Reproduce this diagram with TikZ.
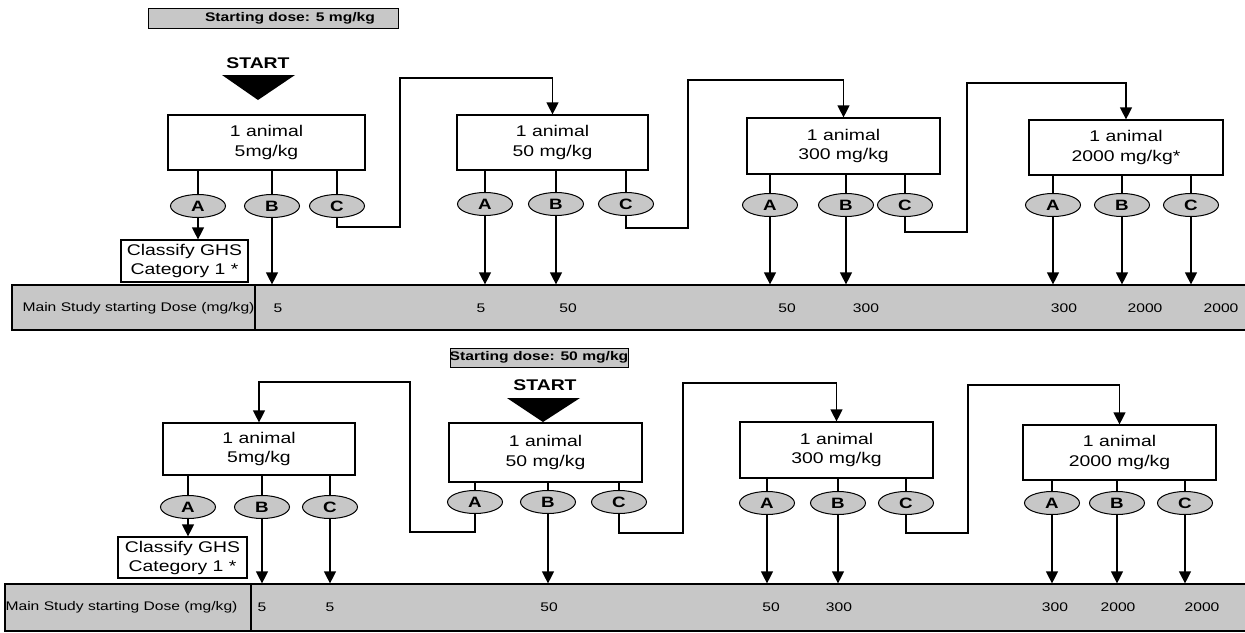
\documentclass[tikz,border=0pt]{standalone}
\usepackage{fontspec}
\setmainfont{Liberation Sans}[FakeStretch=1.25]
\usetikzlibrary{arrows.meta,shapes.geometric}
\begin{document}
\begin{tikzpicture}[x=1pt,y=-1pt,
  line width=1.2pt,
  animalbox/.style={draw, fill=white, align=center, inner sep=0pt,
    font=\fontsize{15.5}{19.5}\selectfont},
  outcome/.style={draw, ellipse, fill=black!22, minimum width=55pt, minimum height=23pt,
    inner sep=0pt, line width=1pt, font=\fontsize{15}{15}\selectfont\bfseries},
  classbox/.style={draw, fill=white, align=center, inner sep=0pt,
    font=\fontsize{15.5}{19}\selectfont, minimum width=127pt, minimum height=42pt},
  dosebar/.style={draw, fill=black!22, inner sep=0pt},
  dosetag/.style={draw, fill=black!22, inner sep=0pt, line width=1pt},
  tagtext/.style={font=\fontsize{12.5}{13}\selectfont\bfseries, inner sep=0pt},
  starttext/.style={font=\fontsize{15.5}{15.5}\selectfont\bfseries, inner sep=0pt},
  bartext/.style={font=\fontsize{12.5}{12.5}\selectfont, inner sep=0pt},
  arr/.style={-{Triangle[width=12pt,length=12pt]}},
]
\useasboundingbox (0,0) rectangle (1245,632);

% ---------------- upper scheme: starting dose 5 mg/kg ----------------
\node[dosetag, minimum width=250pt, minimum height=20pt] (tag1) at (273,18) {};
\node[tagtext] (tag1t) at (290,18) {Starting dose: 5 mg/kg};
\node[starttext] (st1) at (258,63) {START};
\fill (222,75) -- (295,75) -- (258,100) -- cycle;

\node[animalbox, minimum width=197pt, minimum height=55pt] (u1) at (266.5,142.5) {1 animal\\5mg/kg};
\node[animalbox, minimum width=191pt, minimum height=55pt] (u2) at (552.5,142.5) {1 animal\\50 mg/kg};
\node[animalbox, minimum width=193pt, minimum height=56pt] (u3) at (843.5,146) {1 animal\\300 mg/kg};
\node[animalbox, minimum width=194pt, minimum height=55pt] (u4) at (1126,147.5) {1 animal\\2000 mg/kg*};

\node[outcome] (ua1) at (198,206) {A};
\node[outcome] (ub1) at (272,206) {B};
\node[outcome] (uc1) at (337,206) {C};
\node[outcome] (ua2) at (485,204) {A};
\node[outcome] (ub2) at (556,204) {B};
\node[outcome] (uc2) at (626,204) {C};
\node[outcome] (ua3) at (770,205) {A};
\node[outcome] (ub3) at (846,205) {B};
\node[outcome] (uc3) at (905,205) {C};
\node[outcome] (ua4) at (1053,205) {A};
\node[outcome] (ub4) at (1122,205) {B};
\node[outcome] (uc4) at (1191,205) {C};

\node[classbox] (ucls) at (184.5,261) {Classify GHS\\Category 1 *};

\node[dosebar, minimum width=1236pt, minimum height=45pt] (bar1) at (630,307.5) {};
\draw (255,285) -- (255,330);
\node[bartext] (bar1t) at (138.5,308) {Main Study starting Dose (mg/kg)};
\node[bartext] (n11) at (278,308) {5};
\node[bartext] (n12) at (481,308) {5};
\node[bartext] (n13) at (568,308) {50};
\node[bartext] (n14) at (787,308) {50};
\node[bartext] (n15) at (866,308) {300};
\node[bartext] (n16) at (1064,308) {300};
\node[bartext] (n17) at (1145,308) {2000};
\node[bartext] (n18) at (1221,308) {2000};

% box to outcome stems
\foreach \b/\e in {u1/ua1,u1/ub1,u1/uc1,u2/ua2,u2/ub2,u2/uc2,u3/ua3,u3/ub3,u3/uc3,u4/ua4,u4/ub4,u4/uc4}
  \draw (\e.north |- \b.south) -- (\e.north);

% outcomes to the classification box and the dose bar
\draw[arr] (ua1.south) -- (ua1.south |- ucls.north);
\foreach \e in {ub1,ua2,ub2,ua3,ub3,ua4,ub4,uc4}
  \draw[arr] (\e.south) -- (\e.south |- bar1.north);

% escalation loops
\coordinate (k1b) at (400,227);
\coordinate (k1t) at (400,78);
\coordinate (k2b) at (688,228);
\coordinate (k2t) at (688,80);
\coordinate (k3b) at (967,232);
\coordinate (k3t) at (967,83);
\draw[arr] (uc1.south) |- (k1b) -- (k1t) -| (u2.north);
\draw[arr] (uc2.south) |- (k2b) -- (k2t) -| (u3.north);
\draw[arr] (uc3.south) |- (k3b) -- (k3t) -| (u4.north);

% ---------------- lower scheme: starting dose 50 mg/kg ----------------
\node[dosetag, minimum width=178pt, minimum height=19pt] (tag2) at (539,357.5) {};
\node[tagtext] (tag2t) at (539,357.5) {Starting dose: 50 mg/kg};
\node[starttext] (st2) at (545,385) {START};
\fill (507,398) -- (580,398) -- (543,422) -- cycle;

\node[animalbox, minimum width=192pt, minimum height=52pt] (l1) at (259,449) {1 animal\\5mg/kg};
\node[animalbox, minimum width=193pt, minimum height=59pt] (l2) at (545.5,452.5) {1 animal\\50 mg/kg};
\node[animalbox, minimum width=193pt, minimum height=56pt] (l3) at (836.5,450) {1 animal\\300 mg/kg};
\node[animalbox, minimum width=193pt, minimum height=55pt] (l4) at (1119.5,452.5) {1 animal\\2000 mg/kg};

\node[outcome] (la1) at (188,507) {A};
\node[outcome] (lb1) at (262,507) {B};
\node[outcome] (lc1) at (330,507) {C};
\node[outcome] (la2) at (475,502) {A};
\node[outcome] (lb2) at (548,502) {B};
\node[outcome] (lc2) at (619,502) {C};
\node[outcome] (la3) at (767,503) {A};
\node[outcome] (lb3) at (838,503) {B};
\node[outcome] (lc3) at (906,503) {C};
\node[outcome] (la4) at (1052,503) {A};
\node[outcome] (lb4) at (1117,503) {B};
\node[outcome] (lc4) at (1185,503) {C};

\node[classbox, minimum width=129pt, minimum height=41pt] (lcls) at (182.5,557.5) {Classify GHS\\Category 1 *};

\node[dosebar, minimum width=1245pt, minimum height=47pt] (bar2) at (627.5,607.5) {};
\draw (251,584) -- (251,631);
\node[bartext] (bar2t) at (121.5,607) {Main Study starting Dose (mg/kg)};
\node[bartext] (n21) at (262,607) {5};
\node[bartext] (n22) at (330,607) {5};
\node[bartext] (n23) at (549,607) {50};
\node[bartext] (n24) at (771,607) {50};
\node[bartext] (n25) at (839,607) {300};
\node[bartext] (n26) at (1055,607) {300};
\node[bartext] (n27) at (1118,607) {2000};
\node[bartext] (n28) at (1202,607) {2000};

\foreach \b/\e in {l1/la1,l1/lb1,l1/lc1,l2/la2,l2/lb2,l2/lc2,l3/la3,l3/lb3,l3/lc3,l4/la4,l4/lb4,l4/lc4}
  \draw (\e.north |- \b.south) -- (\e.north);

\draw[arr] (la1.south) -- (la1.south |- lcls.north);
\foreach \e in {lb1,lc1,lb2,la3,lb3,la4,lb4,lc4}
  \draw[arr] (\e.south) -- (\e.south |- bar2.north);

\coordinate (m1b) at (410,532);
\coordinate (m1t) at (410,382);
\coordinate (m2b) at (683,533);
\coordinate (m2t) at (683,383);
\coordinate (m3b) at (968,533);
\coordinate (m3t) at (968,385);
\draw[arr] (la2.south) |- (m1b) -- (m1t) -| (l1.north);
\draw[arr] (lc2.south) |- (m2b) -- (m2t) -| (l3.north);
\draw[arr] (lc3.south) |- (m3b) -- (m3t) -| (l4.north);
\end{tikzpicture}
\end{document}
